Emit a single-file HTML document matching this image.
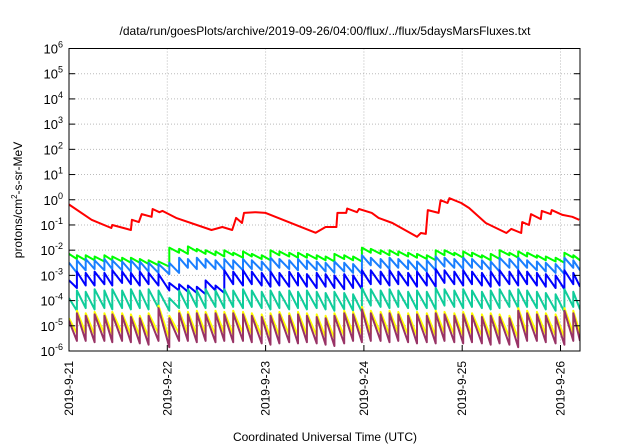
<!DOCTYPE html>
<html><head><meta charset="utf-8"><style>
html,body{margin:0;padding:0;background:#fff}
svg{display:block;font-family:"Liberation Sans",sans-serif}
</style></head><body>
<svg id="chart" width="640" height="448" viewBox="0 0 640 448" xmlns="http://www.w3.org/2000/svg">
<rect width="640" height="448" fill="#fff"/>
<text x="325" y="35" font-size="12" text-anchor="middle">/data/run/goesPlots/archive/2019-09-26/04:00/flux/../flux/5daysMarsFluxes.txt</text>
<text x="325" y="441" font-size="12" text-anchor="middle">Coordinated Universal Time (UTC)</text>
<text transform="translate(22,200) rotate(-90)" font-size="12" text-anchor="middle">protons/cm<tspan dy="-5" font-size="8">2</tspan><tspan dy="5">-s-sr-MeV</tspan></text>
<g id="grid"></g><g id="series"></g><g id="axes"></g>
</svg>
<script>
var xTickLabels=["2019-9-21","2019-9-22","2019-9-23","2019-9-24","2019-9-25","2019-9-26"];
var yTickExps=[-6,-5,-4,-3,-2,-1,0,1,2,3,4,5,6];
var redTimes=[0,0.23,0.43,0.44,0.63,0.64,0.71,0.74,0.84,0.85,0.92,0.95,1.09,1.45,1.56,1.66,1.70,1.76,1.78,1.90,2.0,2.51,2.61,2.72,2.73,2.82,2.83,2.93,2.95,3.08,3.15,3.29,3.54,3.58,3.63,3.65,3.76,3.78,3.85,3.87,3.99,4.07,4.24,4.45,4.50,4.60,4.61,4.68,4.70,4.80,4.81,4.90,4.91,5.02,5.12,5.19];
var redValues=[0.65,0.16,0.076,0.1,0.063,0.16,0.13,0.27,0.21,0.43,0.32,0.36,0.19,0.063,0.083,0.063,0.19,0.12,0.3,0.32,0.3,0.049,0.083,0.083,0.3,0.3,0.45,0.32,0.43,0.3,0.19,0.12,0.034,0.048,0.044,0.39,0.3,0.96,0.74,1.15,0.74,0.47,0.12,0.048,0.07,0.048,0.13,0.1,0.27,0.17,0.36,0.27,0.39,0.25,0.21,0.16];
var toothTimes=[0.00,0.08,0.17,0.26,0.36,0.44,0.54,0.63,0.72,0.81,0.91,1.02,1.12,1.21,1.30,1.39,1.49,1.58,1.67,1.77,1.86,1.96,2.05,2.14,2.24,2.33,2.42,2.52,2.61,2.70,2.80,2.89,2.98,3.07,3.17,3.26,3.35,3.45,3.54,3.64,3.73,3.82,3.92,4.01,4.10,4.20,4.29,4.38,4.48,4.57,4.66,4.76,4.85,4.95,5.04,5.13];
var greenPeaks=[-2.15,-2.2,-2.2,-2.25,-2.2,-2.25,-2.3,-2.3,-2.35,-2.4,-2.45,-1.9,-1.95,-1.85,-1.95,-2.0,-2.05,-2.0,-2.1,-2.05,-2.15,-2.2,-2.0,-2.05,-2.1,-2.1,-2.15,-2.2,-2.25,-2.15,-2.2,-2.25,-1.9,-1.95,-2.0,-2.0,-2.05,-2.1,-2.15,-2.2,-2.0,-2.0,-2.1,-2.05,-2.1,-2.2,-2.15,-2.0,-2.1,-2.05,-2.1,-2.2,-2.25,-2.3,-2.1,-2.2];
var greenTroughs=[-2.35,-2.4,-2.4,-2.45,-2.4,-2.45,-2.5,-2.5,-2.55,-2.6,-2.65,-2.1,-2.15,-2.05,-2.15,-2.2,-2.25,-2.2,-2.3,-2.25,-2.35,-2.4,-2.2,-2.25,-2.3,-2.3,-2.35,-2.4,-2.45,-2.35,-2.4,-2.45,-2.1,-2.15,-2.2,-2.2,-2.25,-2.3,-2.35,-2.4,-2.2,-2.2,-2.3,-2.25,-2.3,-2.4,-2.35,-2.2,-2.3,-2.25,-2.3,-2.4,-2.45,-2.5,-2.3,-2.4];
var lightBluePeaks=[-2.5,-2.4,-2.35,-2.4,-2.35,-2.4,-2.45,-2.4,-2.45,-2.5,-2.55,-2.5,-2.3,-2.35,-2.3,-2.35,-2.4,-2.35,-2.4,-2.35,-2.4,-2.45,-2.3,-2.35,-2.4,-2.35,-2.4,-2.45,-2.5,-2.45,-2.5,-2.55,-2.2,-2.3,-2.35,-2.3,-2.35,-2.4,-2.45,-2.4,-2.25,-2.3,-2.35,-2.3,-2.35,-2.4,-2.45,-2.3,-2.35,-2.3,-2.4,-2.45,-2.5,-2.55,-2.3,-2.4];
var lightBlueTroughs=[-2.9,-2.8,-2.75,-2.8,-2.75,-2.8,-2.85,-2.8,-2.85,-2.9,-2.95,-2.9,-2.7,-2.75,-2.7,-2.75,-2.8,-2.75,-2.8,-2.75,-2.8,-2.85,-2.7,-2.75,-2.8,-2.75,-2.8,-2.85,-2.9,-2.85,-2.9,-2.95,-2.6,-2.7,-2.75,-2.7,-2.75,-2.8,-2.85,-2.8,-2.65,-2.7,-2.75,-2.7,-2.75,-2.8,-2.85,-2.7,-2.75,-2.7,-2.8,-2.85,-2.9,-2.95,-2.7,-2.8];
var bluePeaks=[-3.2,-2.85,-2.9,-2.85,-2.9,-2.8,-2.85,-2.9,-2.85,-2.9,-2.95,-3.3,-3.35,-3.4,-3.45,-3.2,-3.4,-2.8,-2.85,-2.8,-2.85,-2.9,-2.85,-2.9,-2.85,-2.9,-2.95,-2.9,-2.95,-3.0,-2.95,-3.0,-2.8,-2.8,-2.85,-2.8,-2.85,-2.9,-2.85,-2.9,-2.75,-2.8,-2.85,-2.8,-2.85,-2.9,-2.85,-2.8,-2.85,-2.8,-2.85,-2.9,-2.95,-3.0,-2.8,-2.9];
var blueTroughs=[-3.5,-3.4,-3.4,-3.35,-3.4,-3.3,-3.35,-3.4,-3.35,-3.4,-3.6,-3.6,-3.65,-3.7,-3.75,-3.6,-3.7,-3.35,-3.4,-3.35,-3.4,-3.45,-3.4,-3.45,-3.4,-3.45,-3.5,-3.45,-3.5,-3.55,-3.5,-3.55,-3.35,-3.35,-3.4,-3.35,-3.4,-3.45,-3.4,-3.45,-3.3,-3.35,-3.4,-3.35,-3.4,-3.45,-3.4,-3.35,-3.4,-3.35,-3.4,-3.45,-3.5,-3.55,-3.35,-3.45];
var tealPeaks=[-3.9,-3.6,-3.65,-3.55,-3.6,-3.55,-3.6,-3.55,-3.6,-3.55,-3.6,-3.9,-3.6,-3.55,-3.6,-3.55,-3.6,-3.55,-3.6,-3.55,-3.6,-3.65,-3.6,-3.65,-3.6,-3.65,-3.6,-3.65,-3.7,-3.65,-3.7,-3.75,-3.5,-3.55,-3.6,-3.55,-3.6,-3.65,-3.6,-3.65,-3.5,-3.55,-3.6,-3.55,-3.6,-3.65,-3.6,-3.55,-3.6,-3.55,-3.6,-3.65,-3.7,-3.75,-3.55,-3.65];
var tealTroughs=[-4.4,-4.3,-4.35,-4.3,-4.35,-4.3,-4.35,-4.3,-4.35,-4.3,-4.4,-4.3,-4.3,-4.25,-4.3,-4.25,-4.3,-4.25,-4.3,-4.25,-4.3,-4.35,-4.3,-4.35,-4.3,-4.35,-4.3,-4.35,-4.4,-4.35,-4.4,-4.45,-4.2,-4.25,-4.3,-4.25,-4.3,-4.35,-4.3,-4.35,-4.2,-4.25,-4.3,-4.25,-4.3,-4.35,-4.3,-4.25,-4.3,-4.25,-4.3,-4.35,-4.4,-4.45,-4.25,-4.35];
var yellowPeaks=[-4.7,-4.4,-4.5,-4.45,-4.5,-4.45,-4.5,-4.55,-4.6,-4.5,-4.2,-4.6,-4.4,-4.45,-4.4,-4.45,-4.4,-4.45,-4.4,-4.45,-4.5,-4.55,-4.5,-4.45,-4.5,-4.45,-4.5,-4.55,-4.6,-4.5,-4.4,-4.45,-4.25,-4.4,-4.45,-4.4,-4.45,-4.5,-4.45,-4.5,-4.4,-4.45,-4.5,-4.45,-4.5,-4.55,-4.5,-4.55,-4.6,-4.3,-4.4,-4.45,-4.5,-4.55,-4.3,-4.4];
var yellowTroughs=[-5.3,-5.3,-5.35,-5.3,-5.35,-5.3,-5.35,-5.4,-5.45,-5.3,-5.5,-5.3,-5.3,-5.35,-5.3,-5.35,-5.3,-5.35,-5.3,-5.35,-5.4,-5.45,-5.4,-5.35,-5.4,-5.35,-5.4,-5.45,-5.5,-5.4,-5.3,-5.35,-5.3,-5.3,-5.35,-5.3,-5.35,-5.4,-5.35,-5.4,-5.3,-5.35,-5.4,-5.35,-5.4,-5.45,-5.4,-5.45,-5.5,-5.3,-5.3,-5.35,-5.4,-5.45,-5.3,-5.3];
var maroonPeaks=[-4.8,-4.5,-4.6,-4.55,-4.6,-4.55,-4.6,-4.65,-4.7,-4.6,-4.3,-4.7,-4.5,-4.55,-4.5,-4.55,-4.5,-4.55,-4.5,-4.55,-4.6,-4.65,-4.6,-4.55,-4.6,-4.55,-4.6,-4.65,-4.7,-4.6,-4.5,-4.55,-4.35,-4.5,-4.55,-4.5,-4.55,-4.6,-4.55,-4.6,-4.5,-4.55,-4.6,-4.55,-4.6,-4.65,-4.6,-4.65,-4.7,-4.4,-4.5,-4.55,-4.6,-4.65,-4.4,-4.5];
var maroonTroughs=[-5.6,-5.6,-5.65,-5.6,-5.65,-5.6,-5.65,-5.7,-5.75,-5.6,-5.85,-5.6,-5.6,-5.65,-5.6,-5.65,-5.6,-5.65,-5.6,-5.65,-5.7,-5.75,-5.7,-5.65,-5.7,-5.65,-5.7,-5.75,-5.8,-5.7,-5.6,-5.65,-5.6,-5.6,-5.65,-5.6,-5.65,-5.7,-5.65,-5.7,-5.6,-5.65,-5.7,-5.65,-5.7,-5.75,-5.7,-5.75,-5.85,-5.6,-5.6,-5.65,-5.7,-5.75,-5.6,-5.6];

var NS="http://www.w3.org/2000/svg";
var L=69,R=580,T=48.5,B=351,DAYS=(R-L)/98.3;
function xs(d){return L+d*98.3;}
function ys(lg){return B-(lg+6)*(B-T)/12;}
function mk(tag,parent,attrs){var e=document.createElementNS(NS,tag);for(var k in attrs)e.setAttribute(k,attrs[k]);parent.appendChild(e);return e;}
var grid=document.getElementById('grid'),axes=document.getElementById('axes'),ser=document.getElementById('series');
yTickExps.forEach(function(p){
  var y=ys(p);
  if(p>-6&&p<6){var g=mk('line',grid,{x1:L,x2:R,y1:y,y2:y,stroke:'#bbb','stroke-width':1,'stroke-dasharray':'1,2'});
  
  }
  var t=mk('line',axes,{x1:L,x2:L+6,y1:y,y2:y,stroke:'#000'});
  
  
  var t2=mk('line',axes,{x1:R-6,x2:R,y1:y,y2:y,stroke:'#000'});
  
  
  var lb=mk('text',axes,{x:63,y:y+5,'font-size':13,'text-anchor':'end'});
  
  
  lb.textContent='10';
  var sp=mk('tspan',lb,{dy:-6,'font-size':9});sp.textContent=String(p);
});
xTickLabels.forEach(function(s,i){
  var x=xs(i);
  if(i>0){var g=mk('line',grid,{x1:x,x2:x,y1:T,y2:B,stroke:'#bbb','stroke-width':1,'stroke-dasharray':'1,2'});
  
  }
  var t=mk('line',axes,{x1:x,x2:x,y1:B,y2:B-6,stroke:'#000'});
  
  
  var lb=mk('text',axes,{transform:'translate('+(x+4)+','+(B+10)+') rotate(-90)','font-size':12,'text-anchor':'end'});
  
  
  lb.textContent=s;
});
var frame=mk('rect',axes,{x:L,y:T,width:R-L,height:B-T,fill:'none',stroke:'#000','stroke-width':1});


var clip=mk('clipPath',document.getElementById('chart'),{id:'pc'});mk('rect',clip,{x:L,y:T,width:R-L,height:B-T});
function saw(peaks,troughs){
  var pts=[],n=Math.min(toothTimes.length,peaks.length,troughs.length);
  for(var i=0;i<n;i++){
    var t0=toothTimes[i],t1=(i+1<n)?toothTimes[i+1]:DAYS;
    pts.push(xs(t0).toFixed(1)+','+ys(peaks[i]).toFixed(1));
    pts.push(xs(t1).toFixed(1)+','+ys(troughs[i]).toFixed(1));
  }
  return pts.join(' ');
}
var defs=[['series-green','#00ff00',greenPeaks,greenTroughs],['series-light-blue','#1a7fff',lightBluePeaks,lightBlueTroughs],['series-blue','#0000ff',bluePeaks,blueTroughs],['series-teal','#10cc9a',tealPeaks,tealTroughs],['series-yellow','#ffff00',yellowPeaks,yellowTroughs],['series-maroon','#993366',maroonPeaks,maroonTroughs]];
var redPts=redTimes.map(function(t,i){return xs(t).toFixed(1)+','+ys(Math.log10(redValues[i])).toFixed(1);}).join(' ');
var rl=mk('polyline',ser,{points:redPts,fill:'none',stroke:'#ff0000','stroke-width':2,'clip-path':'url(#pc)','stroke-linejoin':'round'});


defs.forEach(function(d){
  var pl=mk('polyline',ser,{points:saw(d[2],d[3]),fill:'none',stroke:d[1],'stroke-width':2,'clip-path':'url(#pc)','stroke-linejoin':'round'});
  
  
});
</script>
</body></html>
